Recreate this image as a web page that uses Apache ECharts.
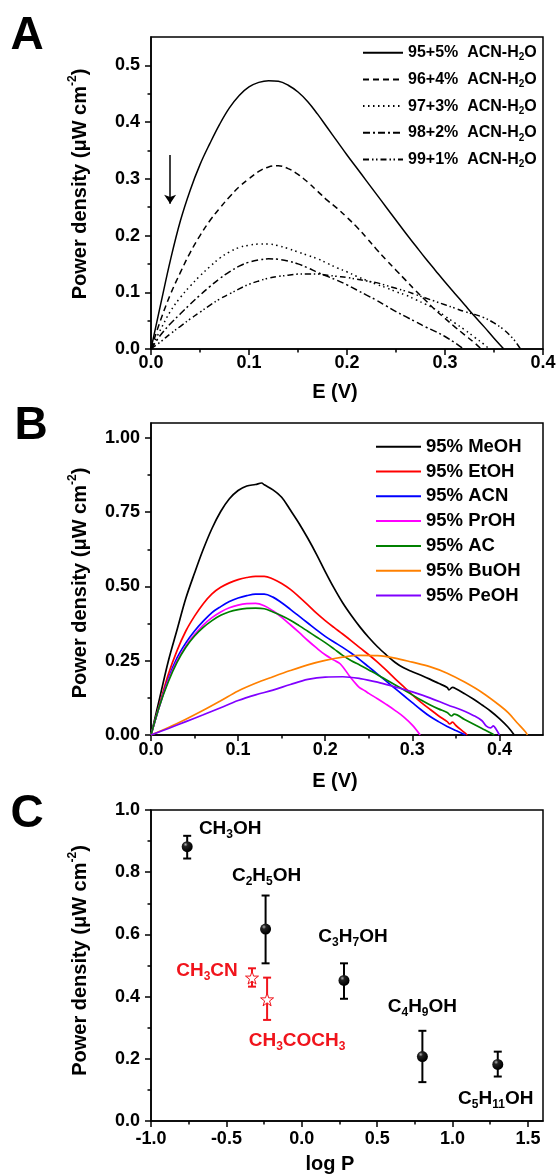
<!DOCTYPE html>
<html><head><meta charset="utf-8">
<script src="https://cdn.jsdelivr.net/npm/echarts@6/dist/echarts.min.js"></script>
<style>html,body{margin:0;padding:0;background:#fff}#c{width:556px;height:1174px}</style>
</head><body><div id="c"></div>
<script>
// ---------------- Panel A data: E (V) vs power density ----------------
const A_names = ['95+5%  ACN-H2O', '96+4%  ACN-H2O', '97+3%  ACN-H2O', '98+2%  ACN-H2O', '99+1%  ACN-H2O'];
const A_95_5 = [[0,0],[0.01,0.08],[0.02,0.158],[0.03,0.226],[0.04,0.28],[0.05,0.325],[0.06,0.362],[0.07,0.396],[0.08,0.425],[0.09,0.447],[0.1,0.462],[0.11,0.47],[0.12,0.473],[0.13,0.472],[0.14,0.465],[0.15,0.453],[0.16,0.436],[0.17,0.414],[0.18,0.39],[0.19,0.366],[0.2,0.342],[0.21,0.319],[0.22,0.296],[0.23,0.273],[0.24,0.25],[0.25,0.227],[0.26,0.204],[0.27,0.182],[0.28,0.16],[0.29,0.139],[0.3,0.118],[0.31,0.098],[0.32,0.078],[0.33,0.058],[0.34,0.039],[0.35,0.019],[0.36,0]];
const A_96_4 = [[0,0],[0.01,0.052],[0.02,0.097],[0.03,0.135],[0.04,0.17],[0.05,0.2],[0.06,0.226],[0.07,0.248],[0.08,0.268],[0.09,0.286],[0.1,0.3],[0.11,0.313],[0.12,0.321],[0.13,0.323],[0.14,0.318],[0.15,0.308],[0.16,0.294],[0.17,0.278],[0.18,0.262],[0.19,0.248],[0.2,0.232],[0.21,0.215],[0.22,0.196],[0.23,0.176],[0.24,0.157],[0.25,0.139],[0.26,0.121],[0.27,0.103],[0.28,0.086],[0.29,0.069],[0.3,0.054],[0.31,0.039],[0.32,0.025],[0.33,0.011],[0.337,0]];
const A_97_3 = [[0,0],[0.01,0.035],[0.02,0.067],[0.03,0.091],[0.04,0.111],[0.05,0.129],[0.06,0.145],[0.07,0.16],[0.08,0.171],[0.09,0.179],[0.1,0.183],[0.11,0.185],[0.12,0.185],[0.13,0.182],[0.14,0.177],[0.15,0.171],[0.16,0.165],[0.17,0.159],[0.18,0.151],[0.19,0.143],[0.2,0.136],[0.21,0.128],[0.22,0.121],[0.23,0.114],[0.24,0.108],[0.25,0.101],[0.26,0.095],[0.27,0.087],[0.28,0.079],[0.29,0.07],[0.3,0.058],[0.31,0.046],[0.32,0.034],[0.33,0.021],[0.34,0.008],[0.345,0]];
const A_98_2 = [[0,0],[0.01,0.025],[0.02,0.045],[0.03,0.062],[0.04,0.079],[0.05,0.095],[0.06,0.11],[0.07,0.124],[0.08,0.136],[0.09,0.146],[0.1,0.153],[0.11,0.157],[0.12,0.159],[0.13,0.158],[0.14,0.155],[0.15,0.15],[0.16,0.143],[0.17,0.135],[0.18,0.128],[0.19,0.121],[0.2,0.113],[0.21,0.104],[0.22,0.095],[0.23,0.086],[0.24,0.076],[0.25,0.066],[0.26,0.057],[0.27,0.048],[0.28,0.039],[0.29,0.031],[0.3,0.022],[0.31,0.011],[0.319,0]];
const A_99_1 = [[0,0],[0.01,0.013],[0.02,0.027],[0.03,0.04],[0.04,0.053],[0.05,0.065],[0.06,0.077],[0.07,0.088],[0.08,0.097],[0.09,0.106],[0.1,0.114],[0.11,0.12],[0.12,0.125],[0.13,0.128],[0.14,0.13],[0.15,0.132],[0.16,0.132],[0.17,0.132],[0.18,0.13],[0.19,0.128],[0.2,0.126],[0.21,0.123],[0.22,0.12],[0.23,0.117],[0.24,0.112],[0.25,0.107],[0.26,0.102],[0.27,0.096],[0.28,0.09],[0.29,0.084],[0.3,0.078],[0.31,0.072],[0.32,0.066],[0.33,0.061],[0.34,0.055],[0.35,0.046],[0.36,0.034],[0.37,0.017],[0.377,0]];
const A_arrow = {x: 0.0195, from: 0.342, to: 0.256};
const A_xTicks = [0, 0.1, 0.2, 0.3, 0.4];
const A_xMinor = [0.05, 0.15, 0.25, 0.35];
const A_yTicks = [0, 0.1, 0.2, 0.3, 0.4, 0.5];
const A_yMinor = [0.05, 0.15, 0.25, 0.35, 0.45];

// ---------------- Panel B data ----------------
const B_names = ['95% MeOH', '95% EtOH', '95% ACN', '95% PrOH', '95% AC', '95% BuOH', '95% PeOH'];
const B_MeOH = [[0,0],[0.01,0.125],[0.02,0.25],[0.03,0.355],[0.04,0.46],[0.05,0.545],[0.06,0.625],[0.07,0.695],[0.08,0.752],[0.09,0.795],[0.1,0.823],[0.11,0.838],[0.12,0.843],[0.127,0.848],[0.13,0.842],[0.14,0.825],[0.15,0.8],[0.16,0.757],[0.17,0.712],[0.18,0.662],[0.19,0.608],[0.2,0.55],[0.21,0.495],[0.22,0.445],[0.23,0.402],[0.24,0.363],[0.25,0.328],[0.26,0.297],[0.27,0.27],[0.28,0.245],[0.29,0.226],[0.3,0.213],[0.31,0.201],[0.32,0.188],[0.33,0.174],[0.34,0.16],[0.342,0.152],[0.346,0.16],[0.35,0.156],[0.36,0.139],[0.37,0.121],[0.38,0.101],[0.39,0.08],[0.4,0.055],[0.41,0.026],[0.417,0]];
const B_EtOH = [[0,0],[0.01,0.105],[0.02,0.205],[0.03,0.285],[0.04,0.35],[0.05,0.4],[0.06,0.442],[0.07,0.475],[0.08,0.497],[0.09,0.512],[0.1,0.523],[0.11,0.53],[0.12,0.534],[0.13,0.534],[0.14,0.525],[0.15,0.51],[0.16,0.49],[0.17,0.465],[0.18,0.438],[0.19,0.41],[0.2,0.385],[0.21,0.362],[0.22,0.34],[0.23,0.317],[0.24,0.293],[0.25,0.27],[0.26,0.245],[0.27,0.218],[0.28,0.19],[0.29,0.163],[0.3,0.135],[0.31,0.11],[0.32,0.087],[0.33,0.065],[0.34,0.045],[0.343,0.037],[0.346,0.043],[0.35,0.032],[0.36,0.008],[0.363,0]];
const B_ACN = [[0,0],[0.01,0.1],[0.02,0.19],[0.03,0.26],[0.04,0.31],[0.05,0.35],[0.06,0.383],[0.07,0.412],[0.08,0.432],[0.09,0.449],[0.1,0.461],[0.11,0.469],[0.12,0.474],[0.13,0.474],[0.14,0.464],[0.15,0.445],[0.16,0.423],[0.17,0.4],[0.18,0.377],[0.19,0.354],[0.2,0.332],[0.21,0.313],[0.22,0.295],[0.23,0.275],[0.24,0.253],[0.25,0.229],[0.26,0.205],[0.27,0.181],[0.28,0.157],[0.29,0.133],[0.3,0.109],[0.31,0.085],[0.32,0.063],[0.33,0.045],[0.34,0.029],[0.35,0.015],[0.361,0]];
const B_PrOH = [[0,0],[0.01,0.1],[0.02,0.185],[0.03,0.25],[0.04,0.3],[0.05,0.338],[0.06,0.37],[0.07,0.395],[0.08,0.414],[0.09,0.428],[0.1,0.437],[0.11,0.442],[0.12,0.443],[0.13,0.435],[0.14,0.418],[0.15,0.396],[0.16,0.371],[0.17,0.345],[0.18,0.318],[0.19,0.293],[0.2,0.27],[0.21,0.252],[0.2174,0.239],[0.228,0.198],[0.237,0.166],[0.24,0.158],[0.242,0.155],[0.246,0.148],[0.25,0.14],[0.26,0.122],[0.27,0.103],[0.28,0.083],[0.29,0.061],[0.3,0.033],[0.309,0]];
const B_AC = [[0,0],[0.01,0.1],[0.02,0.18],[0.03,0.245],[0.04,0.295],[0.05,0.333],[0.06,0.362],[0.07,0.385],[0.08,0.403],[0.09,0.415],[0.1,0.422],[0.11,0.426],[0.12,0.427],[0.13,0.425],[0.14,0.414],[0.15,0.401],[0.16,0.386],[0.17,0.368],[0.18,0.349],[0.19,0.33],[0.2,0.311],[0.21,0.29],[0.22,0.268],[0.23,0.25],[0.24,0.235],[0.25,0.219],[0.26,0.203],[0.27,0.186],[0.28,0.169],[0.29,0.152],[0.3,0.135],[0.31,0.118],[0.32,0.102],[0.33,0.088],[0.34,0.076],[0.345,0.064],[0.348,0.07],[0.36,0.052],[0.37,0.037],[0.38,0.022],[0.39,0.007],[0.394,0]];
const B_BuOH = [[0,0],[0.02,0.025],[0.04,0.053],[0.06,0.083],[0.08,0.115],[0.1,0.148],[0.12,0.174],[0.14,0.196],[0.16,0.217],[0.18,0.236],[0.2,0.251],[0.22,0.262],[0.24,0.268],[0.26,0.267],[0.28,0.259],[0.3,0.245],[0.32,0.23],[0.34,0.208],[0.36,0.178],[0.38,0.143],[0.4,0.1],[0.41,0.075],[0.42,0.042],[0.43,0.01],[0.432,0]];
const B_PeOH = [[0,0],[0.02,0.022],[0.04,0.045],[0.06,0.068],[0.08,0.092],[0.1,0.116],[0.12,0.135],[0.14,0.151],[0.16,0.17],[0.18,0.187],[0.2,0.195],[0.22,0.196],[0.24,0.19],[0.26,0.178],[0.28,0.162],[0.3,0.145],[0.32,0.125],[0.34,0.102],[0.36,0.08],[0.37,0.066],[0.38,0.048],[0.385,0.03],[0.39,0.024],[0.393,0.031],[0.396,0.02],[0.4,0]];
const B_colors = ['#000000', '#ff0000', '#0000ff', '#ff00ff', '#008000', '#ff8000', '#8000ff'];
const B_xTicks = [0, 0.1, 0.2, 0.3, 0.4];
const B_xMinor = [0.05, 0.15, 0.25, 0.35];
const B_yTicks = [0, 0.25, 0.5, 0.75, 1.0];
const B_yMinor = [0.125, 0.375, 0.625, 0.875];

// ---------------- Panel C data: log P vs power density ----------------
const C_alcNames = ['CH3OH', 'C2H5OH', 'C3H7OH', 'C4H9OH', 'C5H11OH'];
const C_alcLogP = [-0.76, -0.24, 0.28, 0.80, 1.30];
const C_alcPower = [0.882, 0.617, 0.452, 0.207, 0.182];
const C_alcErrLo = [0.844, 0.507, 0.393, 0.125, 0.143];
const C_alcErrHi = [0.917, 0.725, 0.507, 0.290, 0.223];
const C_othNames = ['CH3CN', 'CH3COCH3'];
const C_othLogP = [-0.33, -0.23];
const C_othPower = [0.461, 0.391];
const C_othErrLo = [0.432, 0.325];
const C_othErrHi = [0.491, 0.461];
const C_xTicks = [-1.0, -0.5, 0, 0.5, 1.0, 1.5];
const C_xMinor = [-0.75, -0.25, 0.25, 0.75, 1.25];
const C_yTicks = [0, 0.2, 0.4, 0.6, 0.8, 1.0];
const C_yMinor = [0.1, 0.3, 0.5, 0.7, 0.9];

// ---------------- styling ----------------
const FONT = '"Liberation Sans", Arial, sans-serif';
const RED = '#f0141c';
const alcLabelOffsets = [[43, -18], [1, -53], [9, -44], [0, -50], [-2, 34]];
const othLabelOffsets = [[-45, -7], [30, 41]];
const A_dash = ['solid', [6, 4], [1.5, 3.5], [7, 3, 2, 3], [6, 3, 1.5, 2.5, 1.5, 3]];

const chem = s => s.replace(/(\d+)/g, '{s|$1}');
const grids = [
  {left: 151, top: 37, width: 392, height: 312},
  {left: 151, top: 423, width: 392, height: 312},
  {left: 151, top: 810, width: 392, height: 311}
];
grids.forEach(g => {
  g.show = true; g.borderColor = '#000'; g.borderWidth = 1.5; g.backgroundColor = 'transparent';
  g.containLabel = false; g.outerBoundsMode = 'none';
});

const nameRich = {sup: {fontFamily: FONT, fontSize: 12, fontWeight: 'bold', verticalAlign: 'top', lineHeight: 12, color: '#000'}};
function majorAxis(dim, gi, min, max, ticks, dec, name, gap, pad, margin) {
  return {
    type: 'value', gridIndex: gi, min, max, position: dim === 'x' ? 'bottom' : 'left',
    name, nameLocation: 'middle', nameGap: gap,
    nameTextStyle: {fontFamily: FONT, fontSize: 20, fontWeight: 'bold', color: '#000', lineHeight: 26, padding: pad, rich: nameRich},
    axisLine: {show: true, onZero: false, lineStyle: {color: '#000', width: 1.5}},
    axisTick: {show: true, inside: false, length: 6, customValues: ticks, lineStyle: {color: '#000', width: 1.5}},
    minorTick: {show: false}, splitLine: {show: false},
    axisLabel: {show: true, customValues: ticks, margin, fontFamily: FONT, fontSize: 18, fontWeight: 'bold', color: '#000',
      formatter: v => Number(v).toFixed(dec)}
  };
}
function minorAxis(dim, gi, min, max, ticks) {
  return {
    type: 'value', gridIndex: gi, min, max, position: dim === 'x' ? 'bottom' : 'left',
    axisLine: {show: false, onZero: false}, splitLine: {show: false},
    axisTick: {show: true, inside: false, length: 3.5, customValues: ticks, lineStyle: {color: '#000', width: 1.5}},
    axisLabel: {show: false}
  };
}
const yName = 'Power density (μW cm{sup|-2})';
const xAxes = [
  majorAxis('x', 0, 0, 0.4, A_xTicks, 1, 'E (V)', 30, [0, 24, 0, 0], 5),
  majorAxis('x', 1, 0, 0.45, B_xTicks, 1, 'E (V)', 33, [0, 24, 0, 0], 6),
  majorAxis('x', 2, -1, 1.6, C_xTicks, 1, 'log P', 30, [0, 34, 0, 0], 9),
  minorAxis('x', 0, 0, 0.4, A_xMinor),
  minorAxis('x', 1, 0, 0.45, B_xMinor),
  minorAxis('x', 2, -1, 1.6, C_xMinor)
];
const yAxes = [
  majorAxis('y', 0, 0, 0.55, A_yTicks, 1, yName, 58, [0, 0, 0, 18], 11),
  majorAxis('y', 1, 0, 1.05, B_yTicks, 2, yName, 58, [0, 8, 0, 0], 11),
  majorAxis('y', 2, 0, 1.0, C_yTicks, 1, yName, 58, [0, 0, 0, 10], 11),
  minorAxis('y', 0, 0, 0.55, A_yMinor),
  minorAxis('y', 1, 0, 1.05, B_yMinor),
  minorAxis('y', 2, 0, 1.0, C_yMinor)
];

const series = [];
[A_95_5, A_96_4, A_97_3, A_98_2, A_99_1].forEach((d, i) => {
  const s = {
    type: 'line', name: A_names[i], xAxisIndex: 0, yAxisIndex: 0, data: d,
    symbol: 'none', smooth: 0.4, animation: false, silent: true,
    lineStyle: {color: '#000', width: 1.5, type: A_dash[i]}, itemStyle: {color: '#000'}
  };
  if (i === 0) {
    s.markLine = {
      silent: true, animation: false, symbol: ['none', 'arrow'], symbolSize: 9,
      lineStyle: {color: '#000', width: 1.5, type: 'solid'}, label: {show: false},
      data: [[{coord: [A_arrow.x, A_arrow.from]}, {coord: [A_arrow.x, A_arrow.to]}]]
    };
  }
  series.push(s);
});
[B_MeOH, B_EtOH, B_ACN, B_PrOH, B_AC, B_BuOH, B_PeOH].forEach((d, i) => {
  series.push({
    type: 'line', name: B_names[i], xAxisIndex: 1, yAxisIndex: 1, data: d,
    symbol: 'none', smooth: 0.35, animation: false, silent: true,
    lineStyle: {color: B_colors[i], width: 1.7}, itemStyle: {color: B_colors[i]}
  });
});
function errBars(color) {
  return function (params, api) {
    const x = api.value(0);
    const lo = api.coord([x, api.value(1)]);
    const hi = api.coord([x, api.value(2)]);
    const w = 4;
    const st = {stroke: color, lineWidth: 2};
    return {type: 'group', children: [
      {type: 'line', shape: {x1: lo[0], y1: lo[1], x2: hi[0], y2: hi[1]}, style: st},
      {type: 'line', shape: {x1: lo[0] - w, y1: lo[1], x2: lo[0] + w, y2: lo[1]}, style: st},
      {type: 'line', shape: {x1: hi[0] - w, y1: hi[1], x2: hi[0] + w, y2: hi[1]}, style: st}
    ]};
  };
}
series.push({
  type: 'custom', name: 'alcErr', xAxisIndex: 2, yAxisIndex: 2, silent: true, animation: false, z: 2,
  data: C_alcLogP.map((x, i) => [x, C_alcErrLo[i], C_alcErrHi[i]]),
  encode: {x: 0, y: [1, 2]}, renderItem: errBars('#000')
});
series.push({
  type: 'custom', name: 'othErr', xAxisIndex: 2, yAxisIndex: 2, silent: true, animation: false, z: 2,
  data: C_othLogP.map((x, i) => [x, C_othErrLo[i], C_othErrHi[i]]),
  encode: {x: 0, y: [1, 2]}, renderItem: errBars(RED)
});
const labelBase = color => ({
  show: true, position: 'inside', fontFamily: FONT, fontSize: 19, fontWeight: 'bold', color, lineHeight: 24,
  textBorderWidth: 0, textBorderColor: 'transparent', textShadowBlur: 0, opacity: 1,
  rich: {s: {fontFamily: FONT, fontSize: 12, fontWeight: 'bold', color, verticalAlign: 'bottom', lineHeight: 12,
    textBorderWidth: 0, textBorderColor: 'transparent'}}
});
series.push({
  type: 'scatter', name: 'alcohols', xAxisIndex: 2, yAxisIndex: 2, animation: false, silent: true, z: 3,
  symbol: 'circle', symbolSize: 11,
  itemStyle: {opacity: 1, color: {type: 'radial', x: 0.35, y: 0.3, r: 0.65, colorStops: [
    {offset: 0, color: '#b0b0b0'}, {offset: 0.3, color: '#222'}, {offset: 1, color: '#000'}]}},
  label: Object.assign(labelBase('#000'), {formatter: p => chem(C_alcNames[p.dataIndex])}),
  data: C_alcLogP.map((x, i) => ({value: [x, C_alcPower[i]], label: {offset: alcLabelOffsets[i]}}))
});
series.push({
  type: 'scatter', name: 'others', xAxisIndex: 2, yAxisIndex: 2, animation: false, silent: true, z: 3,
  symbol: 'path://M50,0 L61.8,35.1 L98.9,35.1 L68.8,56.8 L80.2,91.9 L50,70.2 L19.8,91.9 L31.2,56.8 L1.1,35.1 L38.2,35.1 Z',
  symbolSize: 13,
  itemStyle: {opacity: 1, color: '#fff', borderColor: RED, borderWidth: 1},
  label: Object.assign(labelBase(RED), {formatter: p => chem(C_othNames[p.dataIndex])}),
  data: C_othLogP.map((x, i) => ({value: [x, C_othPower[i]], label: {offset: othLabelOffsets[i]}}))
});

const legendRichA = {
  a: {fontFamily: FONT, fontSize: 16, fontWeight: 'bold', color: '#000', lineHeight: 20},
  s: {fontFamily: FONT, fontSize: 10, fontWeight: 'bold', color: '#000', lineHeight: 10, verticalAlign: 'bottom'}
};
const option = {
  backgroundColor: '#fff',
  animation: false,
  grid: grids,
  xAxis: xAxes,
  yAxis: yAxes,
  legend: [
    {
      data: A_names, orient: 'vertical', left: 362, top: 42.7, padding: 0, itemGap: 6.7,
      itemWidth: 40, itemHeight: 20, selectedMode: false, itemStyle: {opacity: 0},
      formatter: n => '{a|' + n.slice(0, -2) + '}{s|2}{a|O}',
      textStyle: {fontFamily: FONT, fontSize: 16, fontWeight: 'bold', color: '#000', lineHeight: 20, rich: legendRichA}
    },
    {
      data: B_names, orient: 'vertical', left: 375, top: 436.7, padding: 0, itemGap: 4.8,
      itemWidth: 45, itemHeight: 20, selectedMode: false, itemStyle: {opacity: 0},
      textStyle: {fontFamily: FONT, fontSize: 18.5, fontWeight: 'bold', color: '#000', lineHeight: 20}
    }
  ],
  graphic: [
    {type: 'text', x: 27, y: 36, style: {text: 'A', font: 'bold 46px ' + FONT, fill: '#000', align: 'center', verticalAlign: 'middle'}},
    {type: 'text', x: 31, y: 426, style: {text: 'B', font: 'bold 46px ' + FONT, fill: '#000', align: 'center', verticalAlign: 'middle'}},
    {type: 'text', x: 27, y: 814, style: {text: 'C', font: 'bold 46px ' + FONT, fill: '#000', align: 'center', verticalAlign: 'middle'}}
  ],
  series
};
const chart = echarts.init(document.getElementById('c'), null, {renderer: 'canvas'});
chart.setOption(option);
</script></body></html>
